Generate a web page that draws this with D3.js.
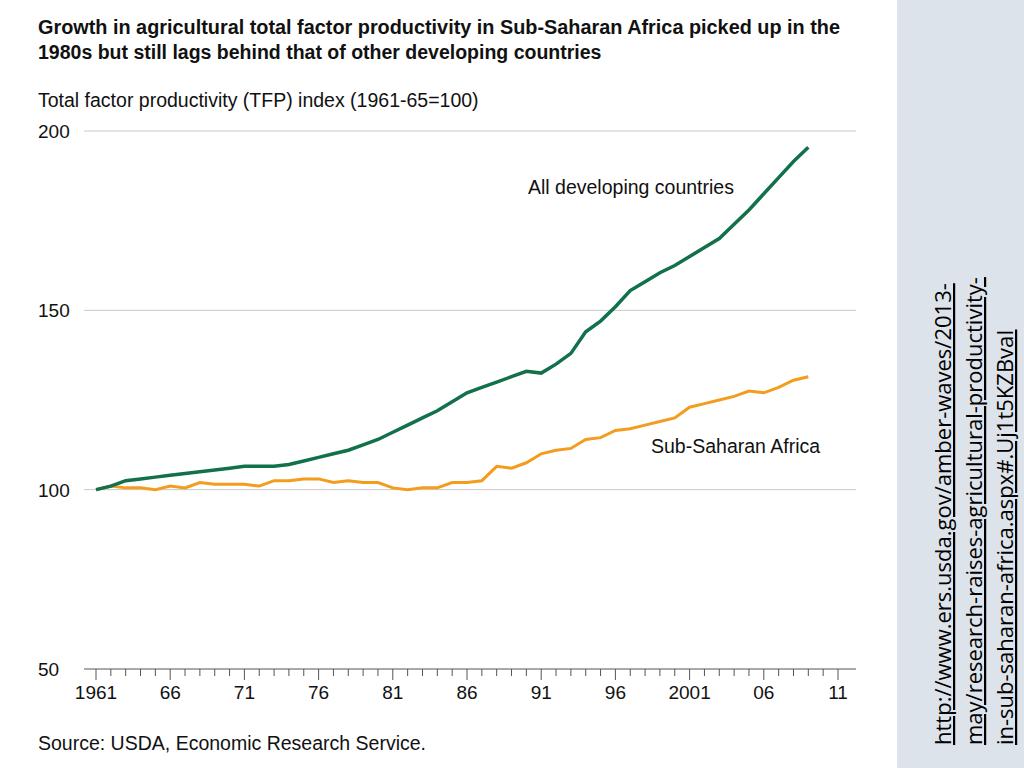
<!DOCTYPE html>
<html><head><meta charset="utf-8">
<script src="https://cdn.jsdelivr.net/npm/d3@7"></script>
<style>body{margin:0;background:#fff}svg{display:block}</style>
</head><body>
<svg id="c" width="1024" height="768"></svg>
<script>
const years = d3.range(1961, 2010);
const allDeveloping = [100,101,102.5,103,103.5,104,104.5,105,105.5,106,106.5,106.5,106.5,107,108,109,110,111,112.5,114,116,118,120,122,124.5,127,128.5,130,131.5,133,132.5,135,138,144,147,151,155.5,158,160.5,162.5,165,167.5,170,174,178,182.5,187,191.5,195.5];
const subSaharan = [100,101,100.5,100.5,100,101,100.5,102,101.5,101.5,101.5,101,102.5,102.5,103,103,102,102.5,102,102,100.5,100,100.5,100.5,102,102,102.5,106.5,106,107.5,110,111,111.5,114,114.5,116.5,117,118,119,120,123,124,125,126,127.5,127,128.5,130.5,131.5];
const yTicks = [50,100,150,200];
const xLabelYears = [1961,1966,1971,1976,1981,1986,1991,1996,2001,2006,2011];
const xLabels = ["1961","66","71","76","81","86","91","96","2001","06","11"];

const svg = d3.select("#c");
const font = "Liberation Sans, Arial, sans-serif";
svg.append("rect").attr("x",897).attr("y",0).attr("width",127).attr("height",768).attr("fill","#dde3ea");

const x = d3.scaleLinear().domain([1961,2011]).range([96,838]);
const y = d3.scaleLinear().domain([50,200]).range([669,131]);

svg.append("text").attr("x",38).attr("y",34).attr("font-family",font).attr("font-weight","bold").attr("font-size",19.5).attr("fill","#111")
  .attr("textLength",802).attr("lengthAdjust","spacingAndGlyphs")
  .text("Growth in agricultural total factor productivity in Sub-Saharan Africa picked up in the");
svg.append("text").attr("x",38).attr("y",59).attr("font-family",font).attr("font-weight","bold").attr("font-size",19.5).attr("fill","#111")
  .text("1980s but still lags behind that of other developing countries");
svg.append("text").attr("x",38).attr("y",107).attr("font-family",font).attr("font-size",19.5).attr("fill","#111")
  .text("Total factor productivity (TFP) index (1961-65=100)");

svg.selectAll(".grid").data(yTicks.slice(1)).enter().append("line")
  .attr("x1",84).attr("x2",856).attr("y1",d=>y(d)).attr("y2",d=>y(d)).attr("stroke","#c8c8c8");
svg.selectAll(".yl").data(yTicks).enter().append("text")
  .attr("x",38).attr("y",d=>y(d)+7).attr("font-family",font).attr("font-size",19).attr("fill","#111").text(d=>d);

const xa = svg.append("g");
xa.append("line").attr("x1",84).attr("x2",856).attr("y1",669).attr("y2",669).attr("stroke","#555");
xa.selectAll(".t").data(d3.range(1961,2012)).enter().append("line")
  .attr("x1",d=>x(d)).attr("x2",d=>x(d)).attr("y1",669).attr("y2",d=>(d-1961)%5===0?680:676).attr("stroke","#555");
xa.selectAll(".xl").data(xLabelYears).enter().append("text")
  .attr("x",d=>x(d)).attr("y",699).attr("text-anchor","middle").attr("font-family",font).attr("font-size",19).attr("fill","#111")
  .text((d,i)=>xLabels[i]);

const line = d3.line().x((d,i)=>x(years[i])).y(d=>y(d));
svg.append("path").datum(subSaharan).attr("d",line).attr("fill","none").attr("stroke","#f39c1e").attr("stroke-width",3);
svg.append("path").datum(allDeveloping).attr("d",line).attr("fill","none").attr("stroke","#12704a").attr("stroke-width",3.5);

svg.append("text").attr("x",528).attr("y",194).attr("font-family",font).attr("font-size",19.5).attr("fill","#111").text("All developing countries");
svg.append("text").attr("x",651).attr("y",453).attr("font-family",font).attr("font-size",19.5).attr("fill","#111").text("Sub-Saharan Africa");
svg.append("text").attr("x",38).attr("y",750).attr("font-family",font).attr("font-size",19.5).attr("fill","#111").text("Source: USDA, Economic Research Service.");

const lk = svg.append("g").attr("transform","translate(951,745) rotate(-90)");
["http://www.ers.usda.gov/amber-waves/2013-","may/research-raises-agricultural-productivity-","in-sub-saharan-africa.aspx#.Uj1t5KZBvaI"].forEach((t,i)=>{
  lk.append("text").attr("x",0).attr("y",i*31).attr("font-family","Open Sans, sans-serif").attr("font-size",22)
    .attr("fill","#000").attr("text-decoration","underline").text(t);
});
</script>
</body></html>
